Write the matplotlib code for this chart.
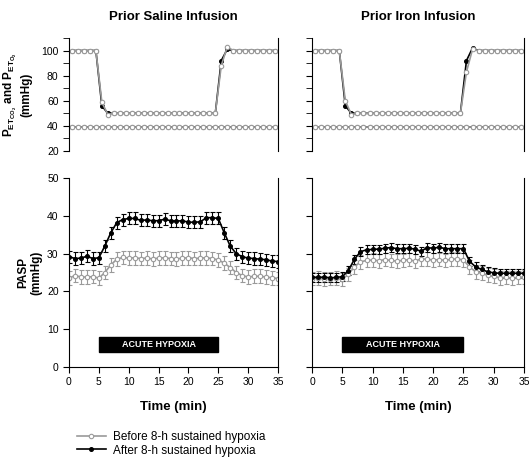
import numpy as np
import matplotlib
matplotlib.use('Agg')
import matplotlib.pyplot as plt
from matplotlib.lines import Line2D

plt.rcParams['font.family'] = ['Liberation Sans', 'DejaVu Sans']
plt.rcParams['mathtext.fontset'] = 'custom'
plt.rcParams['mathtext.rm'] = 'Liberation Sans'
plt.rcParams['mathtext.bf'] = 'Liberation Sans:bold'

GRAY = '#9a9a9a'

# ---- end-tidal gases (top panels), sampled at half-minutes ----
t_gas = np.arange(0.5, 35, 1.0)

o2_saline_before = [100, 100, 100, 100, 100, 59, 49] + [50] * 18 + [88, 103] + [100] * 8
o2_saline_after = [100, 100, 100, 100, 100, 56, 50] + [50] * 18 + [92, 101] + [100] * 8
co2_saline_before = [39.5] * 35
co2_saline_after = [39.3] * 35

o2_iron_before = [100, 100, 100, 100, 100, 60, 49] + [50] * 18 + [83, 101] + [100] * 8
o2_iron_after = [100, 100, 100, 100, 100, 56, 50] + [50] * 18 + [92, 102] + [100] * 8
co2_iron_before = [39.5] * 35
co2_iron_after = [39.3] * 35

# ---- PASP (bottom panels), every minute ----
t_pasp = np.arange(0, 36)

pasp_saline_after = [29.2, 28.7, 28.8, 29.3, 28.7, 28.9, 32.0, 35.5, 38.2, 39.0,
                     39.3, 39.3, 38.8, 38.9, 38.7, 38.7, 39.1, 38.7, 38.6, 38.7,
                     38.3, 38.3, 38.4, 39.5, 39.5, 39.3, 35.5, 32.0, 30.0, 29.2,
                     28.8, 28.7, 28.5, 28.4, 28.0, 27.9]
pasp_saline_after_err = [1.6] * 36
pasp_saline_before = [23.5, 24.2, 23.8, 23.8, 23.9, 23.5, 25.0, 27.0, 28.5, 29.0,
                      28.8, 28.9, 28.7, 28.8, 28.6, 28.8, 28.9, 28.7, 28.6, 28.8,
                      28.9, 28.7, 28.8, 28.9, 28.7, 28.3, 27.5, 26.3, 25.0, 24.2,
                      23.8, 24.0, 24.0, 23.8, 23.6, 23.4]
pasp_saline_before_err = [1.8] * 36

pasp_iron_after = [23.8, 23.7, 23.8, 23.6, 23.7, 23.9, 25.5, 28.5, 30.5, 31.0,
                   31.1, 31.2, 31.4, 31.6, 31.3, 31.3, 31.4, 31.2, 30.6, 31.6,
                   31.4, 31.7, 31.3, 31.3, 31.3, 31.3, 28.0, 26.5, 25.8, 25.2,
                   24.9, 24.8, 24.8, 24.8, 24.8, 24.8]
pasp_iron_after_err = [1.2] * 36
pasp_iron_before = [23.4, 23.5, 23.3, 23.4, 23.5, 23.2, 24.5, 26.5, 27.8, 28.2,
                    28.3, 28.1, 28.4, 28.2, 28.0, 28.2, 28.4, 28.0, 28.6, 28.5,
                    28.3, 28.4, 28.2, 28.5, 28.6, 28.3, 26.5, 25.2, 24.8, 24.3,
                    24.0, 23.6, 23.7, 23.5, 23.7, 23.8]
pasp_iron_before_err = [1.8] * 36

titles = ['Prior Saline Infusion', 'Prior Iron Infusion']
legend_labels = ['Before 8-h sustained hypoxia', 'After 8-h sustained hypoxia']
hypoxia_start, hypoxia_end = 5, 25

fig = plt.figure(figsize=(5.29, 4.57), dpi=100)
col_x = [(69 / 529, 209 / 529), (312 / 529, 212 / 529)]
top_y = (1 - 151 / 457, 113 / 457)
bot_y = (1 - 367 / 457, 189 / 457)

gas_sets = [
    (o2_saline_before, o2_saline_after, co2_saline_before, co2_saline_after),
    (o2_iron_before, o2_iron_after, co2_iron_before, co2_iron_after),
]
pasp_sets = [
    (pasp_saline_before, pasp_saline_before_err, pasp_saline_after, pasp_saline_after_err),
    (pasp_iron_before, pasp_iron_before_err, pasp_iron_after, pasp_iron_after_err),
]

line_kw_before = dict(color=GRAY, lw=1.2, marker='o', ms=3.2, mfc='white', mec=GRAY, mew=0.8)
line_kw_after = dict(color='black', lw=1.2, marker='o', ms=2.6, mfc='black', mec='black')

for i in range(2):
    x0, w = col_x[i]

    # top: gases
    ax = fig.add_axes([x0, top_y[0], w, top_y[1]])
    o2b, o2a, co2b, co2a = gas_sets[i]
    ax.plot(t_gas, co2a, **line_kw_after)
    ax.plot(t_gas, co2b, **line_kw_before)
    ax.plot(t_gas, o2a, **line_kw_after)
    ax.plot(t_gas, o2b, **line_kw_before)
    ax.set_xlim(0, 35)
    ax.set_ylim(20, 110)
    ax.set_yticks([20, 40, 60, 80, 100])
    ax.set_yticks(np.arange(30, 111, 20), minor=True)
    ax.tick_params(axis='y', which='both', direction='out', length=4, labelsize=7.5)
    ax.set_xticks([])
    ax.spines['top'].set_visible(False)
    ax.spines['bottom'].set_visible(False)
    ax.set_title(titles[i], fontsize=9.5, fontweight='bold', pad=13)
    if i == 0:
        ax.set_ylabel(r'$\mathbf{P_{ET_{CO_2}}}$ and $\mathbf{P_{ET_{O_2}}}$' + '\n(mmHg)',
                      fontsize=8.5, fontweight='bold', labelpad=6)
    else:
        ax.set_yticklabels([])

    # bottom: PASP
    ax = fig.add_axes([x0, bot_y[0], w, bot_y[1]])
    pb, pbe, pa, pae = pasp_sets[i]
    ax.errorbar(t_pasp, pb, yerr=pbe, ecolor=GRAY, elinewidth=0.8, capsize=1.8,
                capthick=0.8, **line_kw_before)
    ax.errorbar(t_pasp, pa, yerr=pae, ecolor='black', elinewidth=0.8, capsize=1.8,
                capthick=0.8, **line_kw_after)
    ax.axhspan(3.9, 8.0, xmin=hypoxia_start / 35, xmax=hypoxia_end / 35, color='black')
    ax.text((hypoxia_start + hypoxia_end) / 2, 5.95, 'ACUTE HYPOXIA', color='white',
            ha='center', va='center', fontsize=6.5, fontweight='bold')
    ax.set_xlim(0, 35)
    ax.set_ylim(0, 50)
    ax.set_xticks(np.arange(0, 36, 5))
    ax.set_yticks(np.arange(0, 51, 10))
    ax.tick_params(direction='out', length=4, labelsize=7.5)
    ax.spines['top'].set_visible(False)
    ax.set_xlabel('Time (min)', fontsize=9.5, fontweight='bold', labelpad=10)
    if i == 0:
        ax.set_ylabel('PASP\n(mmHg)', fontsize=8.5, fontweight='bold', labelpad=3)
    else:
        ax.set_yticklabels([])

handles = [Line2D([], [], **line_kw_before), Line2D([], [], **line_kw_after)]
fig.legend(handles, legend_labels, loc='lower left', bbox_to_anchor=(0.135, -0.012),
           frameon=False, fontsize=8.5, handlelength=2.4, labelspacing=0.15,
           handletextpad=0.6, borderpad=0.0, markerfirst=True)

fig.savefig('out.png', dpi=100)
